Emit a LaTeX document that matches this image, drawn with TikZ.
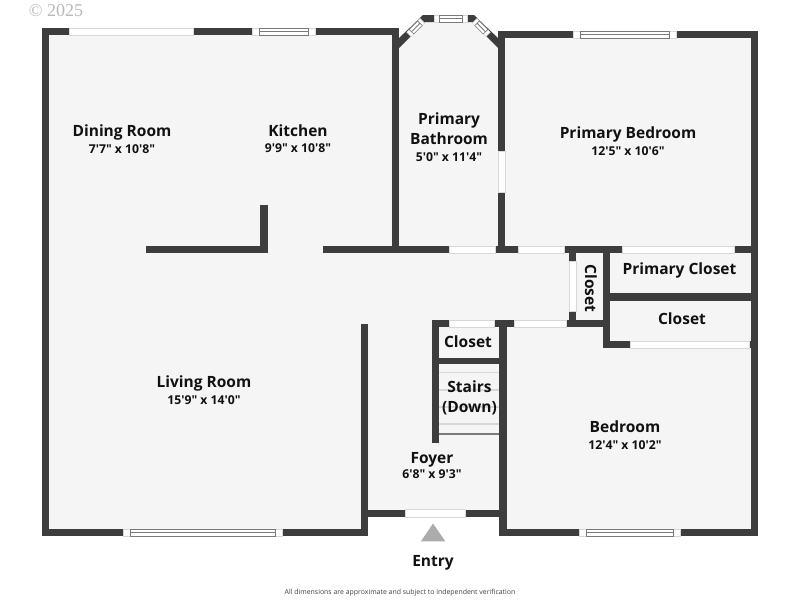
\documentclass[tikz,border=0pt]{standalone}
\usepackage{fontspec}
\setmainfont{Open Sans}[Ligatures=TeXOff]
\definecolor{wallc}{HTML}{3D3D3D}
\definecolor{floorc}{HTML}{F5F5F5}
\definecolor{edgec}{HTML}{D8D8D8}
\definecolor{framec}{HTML}{7A7A7A}
\definecolor{txtc}{HTML}{111111}
\tikzset{
  wallpart/.style={fill=wallc,draw=none},
  opening/.style={fill=white,draw=edgec,line width=.5pt},
  sash/.style={fill=white,draw=framec,line width=.6pt},
  rail/.style={draw=framec,line width=.9pt},
  tread/.style={draw=edgec,line width=1.2pt},
  roomname/.style={font=\fontsize{15.5}{19.5}\selectfont\bfseries,text=txtc,align=center,inner sep=0pt,anchor=base},
  roomsize/.style={font=\fontsize{12.2}{14}\selectfont\bfseries,text=txtc,align=center,inner sep=0pt,anchor=base}
}
\newcommand{\W}[4]{\fill[wallpart] (#1,#2) rectangle (#3,#4);}
\newcommand{\Op}[4]{\draw[opening] (#1,#2) rectangle (#3,#4);}
\begin{document}
\begin{tikzpicture}[x=1pt,y=-1pt]
\useasboundingbox (0,0) rectangle (800,600);
\fill[white] (0,0) rectangle (800,600);
% floor
\fill[floorc] (45,32) -- (395,32) -- (399,44) -- (423,18) -- (474,18) -- (498,44) -- (500,35) -- (755,35) -- (755,533) -- (503,533) -- (503,513) -- (364,513) -- (364,533) -- (45,533) -- cycle;
% outer walls
\W{41.7}{28}{49}{536.3}
\W{41.7}{28}{399}{35}
\W{392}{28}{399}{253}
\W{498}{31}{758}{38.3}
\W{498}{31}{505}{253}
\W{750.7}{31}{758}{536.3}
\W{41.7}{529}{367.7}{536.3}
\W{360.7}{324}{367.7}{536.3}
\W{367.7}{509.6}{506}{516.8}
\W{499.3}{320}{506.6}{536.3}
\W{499.3}{529}{758}{536.3}
% inner walls
\W{146}{246}{267.7}{253}
\W{260.4}{205}{267.7}{253}
\W{323}{246}{758}{253}
\W{569}{246}{576}{327}
\W{603}{246}{610}{348}
\W{603}{293.4}{758}{300.7}
\W{603}{341}{758}{348}
\W{432}{320}{605}{327.3}
\W{432}{320}{439}{443}
\W{432}{357.8}{506}{364.4}
% bay
\fill[wallpart] (397,40) -- (423,15) -- (474,15) -- (500,40) -- (498,48) -- (472,22) -- (425,22) -- (399,48) -- cycle;
% plain openings
\Op{69}{28}{193}{35}
\Op{498}{151.7}{505}{192}
\Op{449.3}{246}{495}{253}
\Op{518.7}{246}{564}{253}
\Op{622.5}{246}{734}{253}
\Op{569}{261.7}{576}{311.7}
\Op{449}{320}{494}{327.3}
\Op{514.7}{320}{566}{327.3}
\Op{630.7}{341}{749.5}{348}
\Op{405}{509.6}{465}{516.8}
% framed windows
\Op{252.5}{28}{315}{35}
\draw[sash] (259.5,28) rectangle (308.5,35); \draw[rail] (259.5,31.5) -- (308.5,31.5);
\Op{573}{31}{676.7}{38.3}
\draw[sash] (580,31) rectangle (669.5,38.3); \draw[rail] (580,34.6) -- (669.5,34.6);
\Op{123.5}{529}{282.5}{536.3}
\draw[sash] (130.3,529) rectangle (275.5,536.3); \draw[rail] (130.3,532.6) -- (275.5,532.6);
\Op{579}{529}{680.7}{536.3}
\draw[sash] (586,529) rectangle (673.5,536.3); \draw[rail] (586,532.6) -- (673.5,532.6);
\Op{434}{15}{467}{22}
\draw[sash] (439,15) rectangle (462,22); \draw[rail] (439,18.5) -- (462,18.5);
% bay diagonal windows
\draw[opening] (406.7,32.2) -- (420,18.5) -- (424.6,23) -- (411.2,36.6) -- cycle;
\draw[sash] (409.2,29.6) -- (417.6,21) -- (422.2,25.5) -- (413.8,34) -- cycle;
\draw[rail] (411.5,31.8) -- (419.9,23.2);
\draw[opening] (490.3,32.2) -- (477,18.5) -- (472.4,23) -- (485.8,36.6) -- cycle;
\draw[sash] (487.8,29.6) -- (479.4,21) -- (474.8,25.5) -- (483.2,34) -- cycle;
\draw[rail] (485.5,31.8) -- (477.1,23.2);
% stairs
\draw[tread] (439,372.7) -- (499.3,372.7);
\draw[tread] (439,390) -- (499.3,390);
\draw[tread] (439,407) -- (499.3,407);
\draw[tread] (439,424) -- (499.3,424);
\draw[framec,line width=1.3pt] (439,434) -- (499.3,434);
% entry
\fill[black!33] (433,523.5) -- (445.3,541.3) -- (421,541.3) -- cycle;
% text
\node[roomname] (dining) at (122,136.7) {Dining Room};
\node[roomsize] (diningsz) at (122,153.3) {7'7" x 10'8"};
\node[roomname] (kitchen) at (298,136) {Kitchen};
\node[roomsize] (kitchensz) at (298,152.3) {9'9" x 10'8"};
\node[roomname] (bath) at (449,144) {Primary\\Bathroom};
\node[roomsize] (bathsz) at (449,161) {5'0" x 11'4"};
\node[roomname] (pbed) at (628,138.3) {Primary Bedroom};
\node[roomsize] (pbedsz) at (628,155) {12'5" x 10'6"};
\node[roomname,rotate=-90] (closeta) at (585,288.5) {Closet};
\node[roomname] (pcloset) at (679.5,274) {Primary Closet};
\node[roomname] (closetb) at (682,324) {Closet};
\node[roomname] (closetc) at (468,347.4) {Closet};
\node[roomname] (stairs) at (469.5,412.3) {Stairs\\(Down)};
\node[roomname] (living) at (204,387.3) {Living Room};
\node[roomsize] (livingsz) at (204,404) {15'9" x 14'0"};
\node[roomname] (foyer) at (432,463.3) {Foyer};
\node[roomsize] (foyersz) at (432,478.7) {6'8" x 9'3"};
\node[roomname] (bed) at (625,432.3) {Bedroom};
\node[roomsize] (bedsz) at (625,449) {12'4" x 10'2"};
\node[roomname] (entry) at (433,566) {Entry};
\node[font=\fontsize{6.93}{8}\selectfont,text=black!75,inner sep=0pt] (note) at (400,593) {All dimensions are approximate and subject to independent verification};
\node[font=\fontsize{18}{20}\selectfont\setmainfont{Liberation Serif},text=black!28,inner sep=0pt] (copy) at (56,11) {\textcopyright{} 2025};
\end{tikzpicture}
\end{document}
